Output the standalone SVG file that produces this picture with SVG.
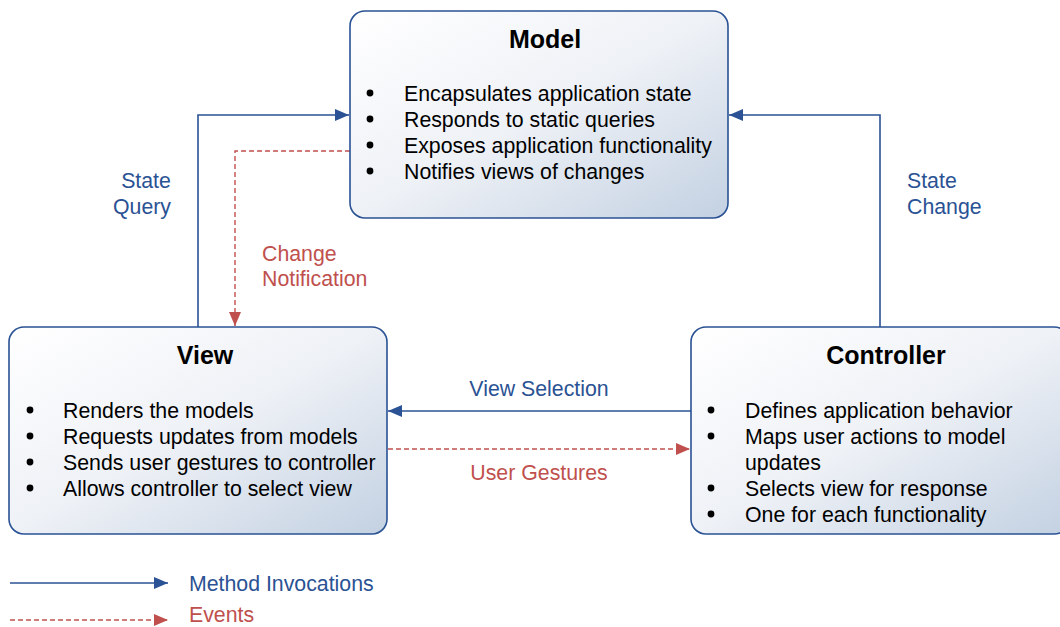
<svg xmlns="http://www.w3.org/2000/svg" width="1060" height="627" viewBox="0 0 1060 627">
<defs>
<linearGradient id="g" x1="0" y1="0" x2="1" y2="1">
<stop offset="0" stop-color="#ffffff"/>
<stop offset="0.5" stop-color="#eef1f6"/>
<stop offset="1" stop-color="#c3d1e2"/>
</linearGradient>
<marker id="ab" markerWidth="14" markerHeight="12" refX="14" refY="6" orient="auto" markerUnits="userSpaceOnUse"><path d="M0,0 L14,6 L0,12 Z" fill="#2a5294"/></marker>
<marker id="ar" markerWidth="14" markerHeight="12" refX="14" refY="6" orient="auto" markerUnits="userSpaceOnUse"><path d="M0,0 L14,6 L0,12 Z" fill="#c0504d"/></marker>
</defs>
<style>
.box{fill:url(#g);stroke:#2a5294;stroke-width:1.6}
.t{font-family:"Liberation Sans",Arial,sans-serif;font-size:21.3px;fill:#000}
.h{font-family:"Liberation Sans",Arial,sans-serif;font-size:25px;font-weight:bold;fill:#000;text-anchor:middle}
.lb{font-family:"Liberation Sans",Arial,sans-serif;font-size:21.3px;fill:#2a5294}
.lr{font-family:"Liberation Sans",Arial,sans-serif;font-size:21.3px;fill:#c0504d}
.cb{fill:none;stroke:#2a5294;stroke-width:1.6}
.cr{fill:none;stroke:#c0504d;stroke-width:1.4;stroke-dasharray:5,3}
</style>
<g id="connectors">
<path class="cb" d="M198,327 V115 H349" marker-end="url(#ab)"/>
<path class="cr" d="M350,151 H235 V326" marker-end="url(#ar)"/>
<path class="cb" d="M880,327 V115 H729" marker-end="url(#ab)"/>
<path class="cb" d="M691,411 H388" marker-end="url(#ab)"/>
<path class="cr" d="M388,449 H690" marker-end="url(#ar)"/>
<text class="lb" x="146" y="188" text-anchor="middle">State</text>
<text class="lb" x="142" y="214" text-anchor="middle">Query</text>
<text class="lb" x="907" y="188">State</text>
<text class="lb" x="907" y="214">Change</text>
<text class="lr" x="262" y="261">Change</text>
<text class="lr" x="262" y="286">Notification</text>
<text class="lb" x="539" y="396" text-anchor="middle">View Selection</text>
<text class="lr" x="539" y="480" text-anchor="middle">User Gestures</text>
</g>
<g id="model">
<rect class="box" x="350" y="11" width="378" height="207" rx="15"/>
<text class="h" x="545" y="48">Model</text>
<circle cx="370" cy="93" r="3.4"/><text class="t" x="404" y="101">Encapsulates application state</text>
<circle cx="370" cy="119" r="3.4"/><text class="t" x="404" y="127">Responds to static queries</text>
<circle cx="370" cy="145" r="3.4"/><text class="t" x="404" y="153">Exposes application functionality</text>
<circle cx="370" cy="171" r="3.4"/><text class="t" x="404" y="179">Notifies views of changes</text>
</g>
<g id="view">
<rect class="box" x="9" y="327" width="378" height="207" rx="15"/>
<text class="h" x="205" y="364">View</text>
<circle cx="30" cy="410" r="3.4"/><text class="t" x="63" y="418">Renders the models</text>
<circle cx="30" cy="436" r="3.4"/><text class="t" x="63" y="444">Requests updates from models</text>
<circle cx="30" cy="462" r="3.4"/><text class="t" x="63" y="470">Sends user gestures to controller</text>
<circle cx="30" cy="488" r="3.4"/><text class="t" x="63" y="496">Allows controller to select view</text>
</g>
<g id="controller">
<rect class="box" x="691" y="327" width="378" height="207" rx="15"/>
<text class="h" x="886" y="364">Controller</text>
<circle cx="711" cy="410" r="3.4"/><text class="t" x="745" y="418">Defines application behavior</text>
<circle cx="711" cy="436" r="3.4"/><text class="t" x="745" y="444">Maps user actions to model</text>
<text class="t" x="745" y="470">updates</text>
<circle cx="711" cy="488" r="3.4"/><text class="t" x="745" y="496">Selects view for response</text>
<circle cx="711" cy="514" r="3.4"/><text class="t" x="745" y="522">One for each functionality</text>
</g>
<g id="legend">
<path class="cb" d="M10,583 H168" marker-end="url(#ab)"/>
<text class="lb" x="189" y="591">Method Invocations</text>
<path class="cr" d="M10,620 H168" marker-end="url(#ar)"/>
<text class="lr" x="189" y="622">Events</text>
</g>
</svg>
